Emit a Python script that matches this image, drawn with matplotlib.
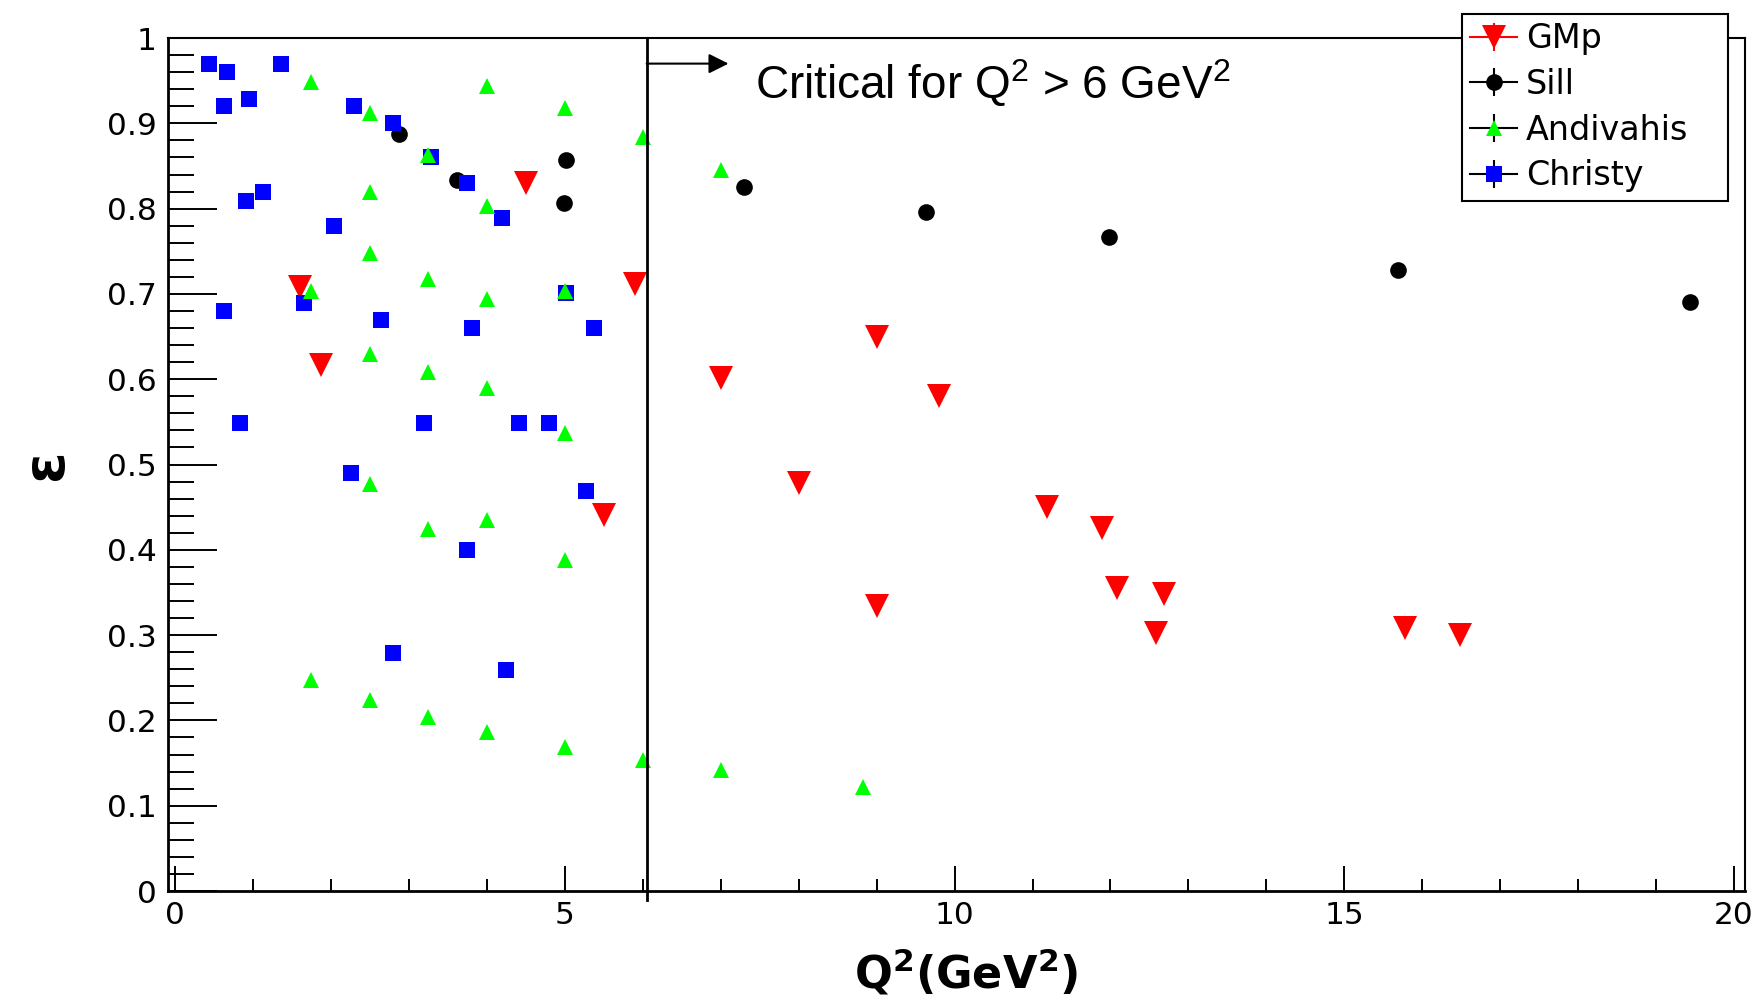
#!/usr/bin/env python3
"""
Epsilon vs Q^2 coverage of the GMp kinematics compared with the
Sill, Andivahis and Christy data sets.

Output:
    out.png
"""

import matplotlib

matplotlib.use("Agg")

import matplotlib.pyplot as plt
from matplotlib.lines import Line2D
from matplotlib.ticker import FuncFormatter, MultipleLocator


plt.rcParams["font.family"] = "DejaVu Sans"
plt.rcParams["mathtext.fontset"] = "custom"
plt.rcParams["mathtext.rm"] = "Liberation Sans"
plt.rcParams["mathtext.it"] = "Liberation Sans:italic"
plt.rcParams["mathtext.bf"] = "DejaVu Sans:bold"

# GMp kinematics
gmp_q2 = [1.60, 1.87, 4.50, 5.50, 5.90, 7.01, 9.00, 9.80, 8.00, 11.19,
          11.89, 9.00, 12.09, 12.69, 12.59, 15.78, 16.48]
gmp_eps = [0.708, 0.617, 0.830, 0.441, 0.712, 0.601, 0.649, 0.580, 0.478,
           0.450, 0.426, 0.334, 0.355, 0.348, 0.302, 0.308, 0.300]

# Sill
sill_q2 = [2.87, 3.62, 5.02, 4.99, 7.30, 9.63, 11.98, 15.69, 19.44]
sill_eps = [0.888, 0.834, 0.857, 0.807, 0.825, 0.796, 0.767, 0.728, 0.691]

# Andivahis
andi_q2 = [1.75, 2.50, 3.25, 4.00, 4.00, 5.00, 6.00, 7.00,
           2.50, 2.50, 3.25, 1.75, 4.00, 5.00,
           2.50, 3.25, 4.00, 5.00,
           2.50, 3.25, 4.00, 5.00,
           1.75, 2.50, 3.25, 4.00, 5.00, 6.00, 7.00, 8.83]
andi_eps = [0.949, 0.912, 0.863, 0.944, 0.803, 0.918, 0.884, 0.845,
            0.819, 0.748, 0.718, 0.703, 0.694, 0.703,
            0.629, 0.608, 0.590, 0.537,
            0.477, 0.424, 0.435, 0.388,
            0.247, 0.224, 0.204, 0.187, 0.169, 0.154, 0.142, 0.122]

# Christy
christy_q2 = [0.44, 0.67, 1.36, 0.63, 0.95, 2.30, 2.79, 3.28, 3.75, 4.20,
              0.91, 1.13, 2.04, 0.63, 1.65, 2.64, 3.81, 5.38, 5.01,
              0.83, 3.19, 4.41, 4.80, 2.26, 5.27, 3.74, 2.79, 4.25]
christy_eps = [0.970, 0.960, 0.970, 0.920, 0.929, 0.920, 0.900, 0.860, 0.830,
               0.789, 0.809, 0.819, 0.780, 0.680, 0.689, 0.669, 0.660, 0.660,
               0.701, 0.549, 0.549, 0.549, 0.549, 0.490, 0.469, 0.400, 0.279,
               0.259]

SERIES = [
    # label, x, y, marker, size, colour, legend line colour, zorder
    ("GMp", gmp_q2, gmp_eps, "v", 17.5, "#ff0000", "#ff0000", 3),
    ("Sill", sill_q2, sill_eps, "o", 12, "black", "black", 2),
    ("Andivahis", andi_q2, andi_eps, "^", 12, "#00ff00", "black", 5),
    ("Christy", christy_q2, christy_eps, "s", 11.5, "#0000ff", "black", 4),
]

# position of the drawn cut line (Q^2 ~ 6 GeV^2)
CUT_LINE_X = 6.05


def main() -> None:
    fig = plt.figure(figsize=(17.52, 9.98), dpi=100)
    ax = fig.add_axes([0.0959, 0.1072, 0.9001, 0.8547])

    handles = []
    labels = []
    for label, xs, ys, marker, ms, color, line_color, z in SERIES:
        ax.plot(xs, ys, ls="none", marker=marker, ms=ms, mew=0,
                color=color, zorder=z)

        # legend entry: horizontal + vertical bar with the marker on top
        handles.append((
            Line2D([], [], color=line_color, lw=1.5),
            Line2D([], [], ls="none", marker="|", ms=20, mew=1.5,
                   color=line_color),
            Line2D([], [], ls="none", marker=marker, ms=ms, mew=0,
                   color=color),
        ))
        labels.append(label)

    ax.set_xlim(-0.09, 20.14)
    ax.set_ylim(0, 1)

    ax.xaxis.set_major_locator(MultipleLocator(5))
    ax.xaxis.set_minor_locator(MultipleLocator(1))
    ax.yaxis.set_major_locator(MultipleLocator(0.1))
    ax.yaxis.set_minor_locator(MultipleLocator(0.02))
    fmt = FuncFormatter(lambda v, pos: f"{v:g}")
    ax.xaxis.set_major_formatter(fmt)
    ax.yaxis.set_major_formatter(fmt)

    ax.tick_params(which="both", direction="in", top=False, right=False,
                   color="black")
    ax.tick_params(axis="y", which="major", length=35, width=1.4, pad=8,
                   labelsize=22.5)
    ax.tick_params(axis="y", which="minor", length=19, width=1.4)
    ax.tick_params(axis="x", which="major", length=18, width=1.4, pad=7,
                   labelsize=22.5)
    ax.tick_params(axis="x", which="minor", length=9, width=1.4)

    for name, spine in ax.spines.items():
        spine.set_linewidth(2.0 if name in ("left", "bottom") else 1.5)

    # Q^2 > 6 GeV^2 region marker
    ax.axvline(CUT_LINE_X, ymin=-0.01, ymax=1, color="black", lw=2,
               clip_on=False, zorder=6)
    ax.annotate("", xy=(7.1, 0.970), xytext=(CUT_LINE_X, 0.970),
                arrowprops=dict(arrowstyle="-|>", color="black", lw=1.5,
                                mutation_scale=30, shrinkA=0, shrinkB=0),
                zorder=6)
    ax.text(7.44, 0.930, r"Critical for Q$^{2}$ > 6 GeV$^{2}$", fontsize=33,
            family="Liberation Sans", va="baseline", ha="left")

    ax.set_xlabel(r"$\mathbf{Q^{2}(GeV^{2})}$", fontsize=32)
    ax.xaxis.set_label_coords(0.506, -0.065)
    ax.set_ylabel("ε", fontsize=41, fontweight="bold", rotation=90,
                  va="center", ha="center")
    ax.yaxis.set_label_coords(-0.077, 0.5)

    leg = ax.legend(
        handles, labels,
        loc="upper left",
        bbox_to_anchor=(0.8345, 0.8026, 0.1518, 0.1834),
        bbox_transform=fig.transFigure,
        mode="expand",
        prop={"size": 24},
        handlelength=1.4,
        handletextpad=0.27,
        borderpad=0.25,
        labelspacing=0.38,
        borderaxespad=0,
        fancybox=False,
        edgecolor="black",
        framealpha=1,
    )
    leg.get_frame().set_linewidth(1.5)
    leg.set_zorder(10)

    fig.savefig("out.png", dpi=100)
    plt.close(fig)


if __name__ == "__main__":
    main()
